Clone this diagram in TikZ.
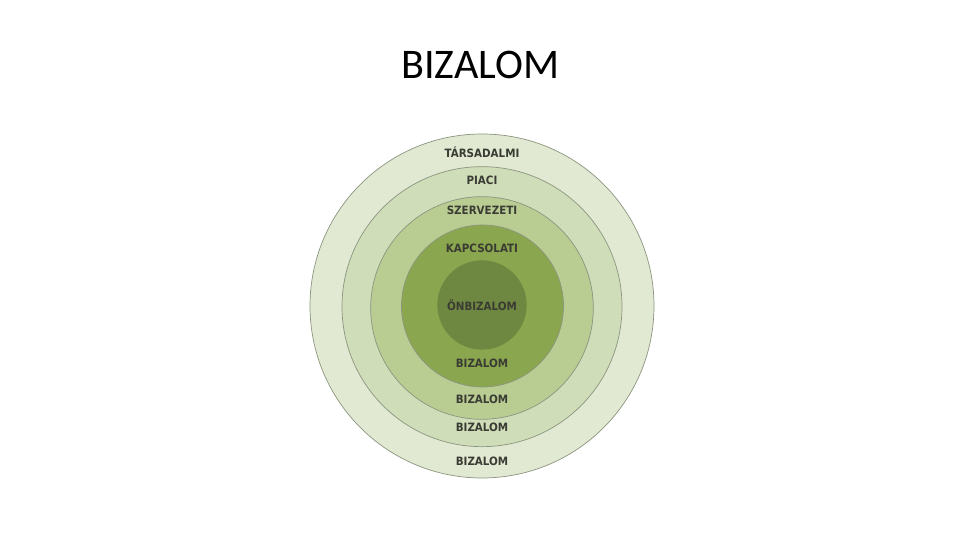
\documentclass[tikz,border=0pt]{standalone}
\usepackage{fontspec}
\setmainfont{Carlito}
\newfontfamily\ringfont{DejaVu Sans Condensed}
\usepackage{tikz}
\usetikzlibrary{arrows.meta}
\definecolor{ringline}{HTML}{8C9580}
\definecolor{ringtext}{HTML}{3A3C33}
\definecolor{ringA}{HTML}{E1E9D3}
\definecolor{ringB}{HTML}{CFDDB9}
\definecolor{ringC}{HTML}{B9CD93}
\definecolor{ringD}{HTML}{8AA64E}
\definecolor{ringE}{HTML}{6F8841}
\tikzset{
  every picture/.style={line join=round, line cap=round, >=Stealth},
  ring/.style={draw=ringline, line width=0.6pt},
  ringlabel/.style={text=ringtext, font=\ringfont\bfseries\fontsize{9.8}{11}\selectfont, inner sep=0pt},
}

\begin{document}
\begin{tikzpicture}
\useasboundingbox (0,0) rectangle (28.800,16.200);
\node[anchor=base,font=\fontsize{36}{40}\selectfont] (title) at (14.410,13.830) {BIZALOM};
\filldraw[ring,fill=ringA](14.460,7.020) circle[radius=5.160];
\filldraw[ring,fill=ringB](14.460,7.000) circle[radius=4.200];
\filldraw[ring,fill=ringC](14.460,6.960) circle[radius=3.340];
\filldraw[ring,fill=ringD](14.475,7.020) circle[radius=2.430];
\fill[ringE](14.460,7.050) circle[radius=1.340];
\node[ringlabel] (tars) at (14.460,11.640) {TÁRSADALMI};
\node[ringlabel] (piac) at (14.460,10.800) {PIACI};
\node[ringlabel] (szerv) at (14.460,9.900) {SZERVEZETI};
\node[ringlabel] (kapcs) at (14.460,8.750) {KAPCSOLATI};
\node[ringlabel] (onbiz) at (14.460,7.050) {ÖNBIZALOM};
\node[ringlabel] (bizD) at (14.460,5.300) {BIZALOM};
\node[ringlabel] (bizC) at (14.460,4.220) {BIZALOM};
\node[ringlabel] (bizB) at (14.460,3.380) {BIZALOM};
\node[ringlabel] (bizA) at (14.460,2.350) {BIZALOM};
\end{tikzpicture}
\end{document}
